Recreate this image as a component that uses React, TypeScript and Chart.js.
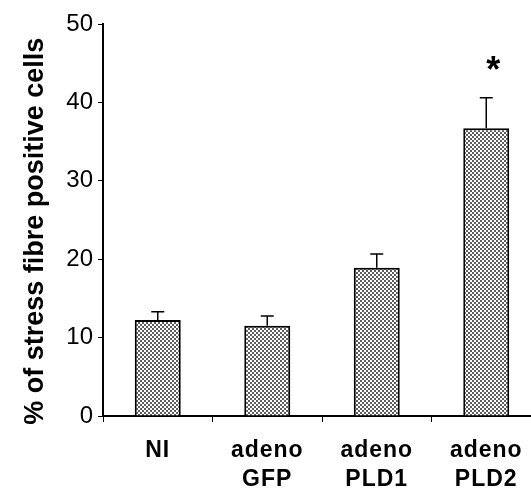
import React, { useEffect, useRef } from "react";
import { Chart, registerables } from "chart.js";

Chart.register(...registerables);

const categories: string[][] = [["NI"], ["adeno", "GFP"], ["adeno", "PLD1"], ["adeno", "PLD2"]];
const meanValues: number[] = [12.25, 11.5, 18.9, 36.7];
const errorTops: number[] = [13.3, 12.75, 20.65, 40.6];
const significance: string[] = ["", "", "", "*"];
const significanceLevel: number[] = [0, 0, 0, 45.2];
const yTicks: number[] = [0, 10, 20, 30, 40, 50];
const yTitle = "% of stress fibre positive cells   ";

function makePattern(): CanvasPattern | string {
  const c = document.createElement("canvas");
  c.width = 4;
  c.height = 4;
  const g = c.getContext("2d");
  if (!g) return "#aaaaaa";
  g.fillStyle = "#ffffff";
  g.fillRect(0, 0, 4, 4);
  g.fillStyle = "#5e5e5e";
  g.fillRect(0, 0, 2, 2);
  g.fillRect(2, 2, 2, 2);
  const p = g.createPattern(c, "repeat");
  return p || "#aaaaaa";
}

const spacingPlugin = {
  id: "labelSpacing",
  beforeDraw(chart: any) {
    const s: any = chart.scales.x;
    if (s && !s.__wrapped) {
      const orig = s.drawLabels.bind(s);
      s.drawLabels = (area: any) => {
        const ctx = chart.ctx;
        ctx.save();
        (ctx as any).letterSpacing = "1px";
        orig(area);
        ctx.restore();
      };
      s.__wrapped = true;
    }
  },
};

const errorBarPlugin = {
  id: "errorBars",
  afterDatasetsDraw(chart: any) {
    const ctx = chart.ctx;
    const xs = chart.scales.x;
    const ys = chart.scales.y;
    ctx.save();
    ctx.strokeStyle = "#000";
    ctx.lineWidth = 1.5;
    meanValues.forEach((v, i) => {
      const x = xs.getPixelForValue(i);
      const y0 = ys.getPixelForValue(v);
      const y1 = ys.getPixelForValue(errorTops[i]);
      ctx.beginPath();
      ctx.moveTo(x, y0);
      ctx.lineTo(x, y1);
      ctx.moveTo(x - 6.5, y1);
      ctx.lineTo(x + 6.5, y1);
      ctx.stroke();
    });
    ctx.fillStyle = "#000";
    ctx.font = "bold 36px 'Liberation Sans', Arial, sans-serif";
    ctx.textAlign = "center";
    ctx.textBaseline = "alphabetic";
    significance.forEach((s, i) => {
      if (!s) return;
      const x = xs.getPixelForValue(i) + 7;
      const y = ys.getPixelForValue(significanceLevel[i]);
      ctx.fillText(s, x, y + 20);
    });
    ctx.restore();
  },
};

export default function App() {
  const ref = useRef<HTMLCanvasElement | null>(null);
  useEffect(() => {
    if (!ref.current) return;
    const chart = new Chart(ref.current, {
      type: "bar",
      data: {
        labels: categories,
        datasets: [
          {
            data: meanValues,
            backgroundColor: makePattern() as any,
            borderColor: "#000",
            borderWidth: 2,
            barPercentage: 0.42,
            categoryPercentage: 1,
          },
        ],
      },
      options: {
        animation: false,
        responsive: false,
        layout: { padding: { top: 24, right: 19, bottom: 0, left: 0 } },
        plugins: { legend: { display: false }, tooltip: { enabled: false } },
        scales: {
          x: {
            grid: { display: true, offset: true, drawOnChartArea: false, drawTicks: true, tickLength: 6, color: "#000", lineWidth: 1 },
            border: { display: true, color: "#000", width: 2 },
            ticks: {
              color: "#000",
              padding: 14,
              maxRotation: 0,
              autoSkip: false,
              font: { family: "'Liberation Sans', Arial, sans-serif", size: 23, weight: "bold", lineHeight: 1.27 },
            },
            afterFit: (s: any) => {
              s.height = 73;
            },
          },
          y: {
            min: 0,
            max: 50,
            afterBuildTicks: (s: any) => {
              s.ticks = yTicks.map((v) => ({ value: v }));
            },
            grid: { display: true, drawOnChartArea: false, drawTicks: true, tickLength: 5, color: "#000", lineWidth: 1 },
            border: { display: true, color: "#000", width: 2 },
            ticks: {
              color: "#000",
              padding: 5,
              font: { family: "'Liberation Sans', Arial, sans-serif", size: 24 },
            },
            title: {
              display: true,
              text: yTitle,
              color: "#000",
              padding: { top: 19, bottom: 0 },
              font: { family: "'Liberation Sans', Arial, sans-serif", size: 27, weight: "bold", lineHeight: 1.2 },
            },
            afterFit: (s: any) => {
              s.width = 103;
            },
          },
        },
      },
      plugins: [spacingPlugin, errorBarPlugin],
    });
    return () => chart.destroy();
  }, []);
  return (
    <div style={{ position: "fixed", left: 0, top: 0, width: 531, height: 489, overflow: "hidden", background: "#fff" }}>
      <canvas ref={ref} width={560} height={489} style={{ display: "block" }} />
    </div>
  );
}
